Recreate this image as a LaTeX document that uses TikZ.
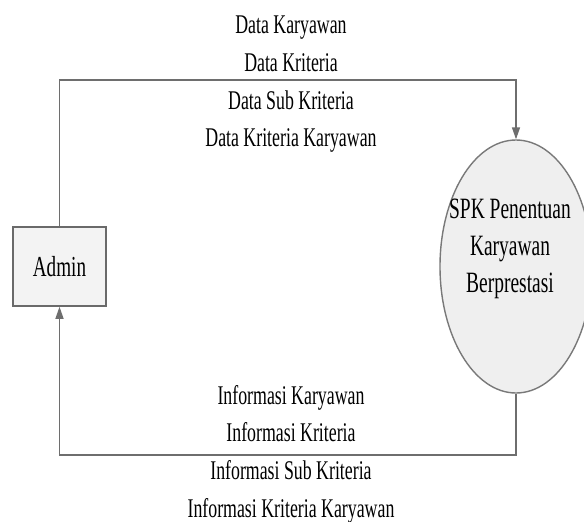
\documentclass[tikz,border=0pt]{standalone}
\usepackage{fontspec}
\setmainfont{Liberation Serif}[FakeStretch=0.66]
\usepackage{xcolor}
\usetikzlibrary{shapes,arrows.meta,positioning,calc}
\definecolor{linegray}{HTML}{6E6E6E}
\definecolor{edgegray}{HTML}{6A6A6A}
\definecolor{boxfill}{HTML}{F3F3F3}
\definecolor{procfill}{HTML}{EFEFEF}

\begin{document}
\begin{tikzpicture}[x=1pt,y=-1pt,
    flow/.style={draw=linegray, line width=1.4pt, -{Triangle[length=12pt,width=8pt]}},
    entity/.style={draw=edgegray, fill=boxfill, line width=1.6pt, minimum width=93pt, minimum height=79pt, inner sep=0pt, font=\fontsize{29}{36}\selectfont},
    process/.style={draw=edgegray!90, fill=procfill, ellipse, line width=1.4pt, minimum width=152pt, minimum height=253pt, inner sep=0pt},
    lbl/.style={align=center, inner sep=0pt, font=\fontsize{27}{37.7}\selectfont}]

    \fill[white] (0,0) rectangle (584,522);
    \useasboundingbox (0,0) rectangle (584,522);

    % External entity and process
    \node[entity] (admin) at (59.5,266.5) {Admin};
    \node[process] (spk) at (516,266.5) {};
    \node[lbl, font=\fontsize{29.5}{37}\selectfont] (spktext) at (510,248.5) {SPK Penentuan\\Karyawan\\Berprestasi};

    % Turning points of the flows
    \coordinate (toprow) at (0,80);
    \coordinate (botrow) at (0,455);

    % Data flows
    \draw[flow] (admin.north) |- (spk.north |- toprow) -- (spk.north);
    \draw[flow] (spk.south) |- (admin.south |- botrow) -- (admin.south);

    % Flow labels
    \node[lbl] (datain) at (291,84.5) {Data Karyawan\\Data Kriteria\\Data Sub Kriteria\\Data Kriteria Karyawan};
    \node[lbl] (infoout) at (291,454) {Informasi Karyawan\\Informasi Kriteria\\Informasi Sub Kriteria\\Informasi Kriteria Karyawan};
\end{tikzpicture}
\end{document}
